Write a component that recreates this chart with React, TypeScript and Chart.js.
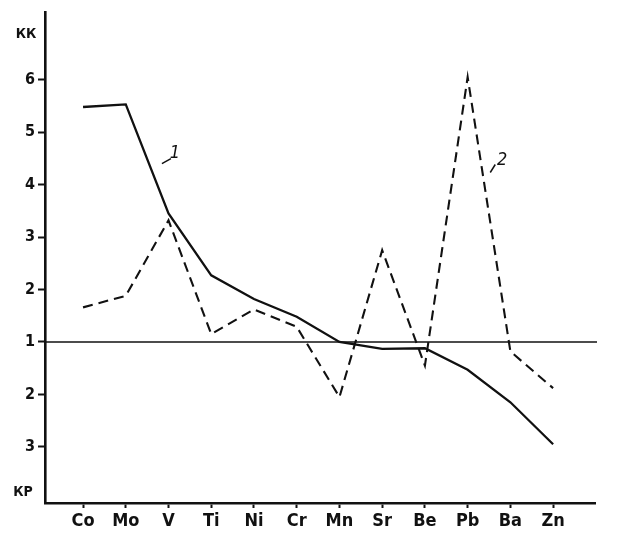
import React, { useEffect, useRef } from "react";
import { Chart, registerables } from "chart.js";

Chart.register(...registerables);

// Elements along the x axis
const categories = ["Co", "Mo", "V", "Ti", "Ni", "Cr", "Mn", "Sr", "Be", "Pb", "Ba", "Zn"];
// Axis value: >= 1 is KK (concentration), < 1 maps to KP label (2 - v)
const series1 = [5.48, 5.53, 3.45, 2.27, 1.82, 1.48, 1.0, 0.87, 0.88, 0.47, -0.15, -0.95];
const series2 = [1.66, 1.88, 3.32, 1.15, 1.62, 1.29, -0.05, 2.75, 0.55, 6.05, 0.82, 0.12];
const yTickValues = [-1, 0, 1, 2, 3, 4, 5, 6];
const yTickLabel = (v: number) => (v >= 1 ? String(v) : String(2 - v));
const upperTitle = "КК";
const lowerTitle = "КР";
const seriesNames = ["1", "2"];
const referenceValue = 1;

const FONT = "'DejaVu Sans Condensed', 'DejaVu Sans', sans-serif";

export default function App() {
  const ref = useRef<HTMLCanvasElement | null>(null);

  useEffect(() => {
    document.body.style.margin = "0";
    const canvas = ref.current;
    if (!canvas) return;

    const decor = {
      id: "decor",
      beforeDatasetsDraw(chart: any) {
        const { ctx, chartArea, scales } = chart;
        const y = scales.y.getPixelForValue(referenceValue);
        ctx.save();
        ctx.strokeStyle = "#111";
        ctx.lineWidth = 1.7;
        ctx.beginPath();
        ctx.moveTo(chartArea.left, y);
        ctx.lineTo(chartArea.right + 2, y);
        ctx.stroke();
        ctx.restore();
      },
      afterDraw(chart: any) {
        const { ctx, scales } = chart;
        const xs = scales.x;
        const ys = scales.y;
        ctx.save();
        ctx.fillStyle = "#111";
        ctx.strokeStyle = "#111";
        // axis titles
        ctx.font = `bold 14px ${FONT}`;
        ctx.textAlign = "center";
        ctx.textBaseline = "middle";
        ctx.fillText(upperTitle, 26, ys.getPixelForValue(6.86));
        ctx.fillText(lowerTitle, 23, ys.getPixelForValue(-1.86));
        // series labels with leaders
        const labels = [
          { text: seriesNames[0], xv: 2.15, yv: 4.59, l: [-13, 10, -4, 5] },
          { text: seriesNames[1], xv: 9.81, yv: 4.46, l: [-12, 12, -7, 4] },
        ];
        ctx.font = `italic 18px ${FONT}`;
        ctx.lineWidth = 1.5;
        for (const lb of labels) {
          const px = xs.getPixelForValue(lb.xv);
          const py = ys.getPixelForValue(lb.yv);
          ctx.fillText(lb.text, px, py);
          ctx.beginPath();
          ctx.moveTo(px + lb.l[0], py + lb.l[1]);
          ctx.lineTo(px + lb.l[2], py + lb.l[3]);
          ctx.stroke();
        }
        ctx.restore();
      },
    };

    const chart = new Chart(canvas, {
      type: "line",
      data: {
        datasets: [
          {
            label: seriesNames[0],
            data: categories.map((_, i) => ({ x: i, y: series1[i] })),
            borderColor: "#111",
            borderWidth: 2.3,
            pointRadius: 0,
            tension: 0,
            fill: false,
          },
          {
            label: seriesNames[1],
            data: categories.map((_, i) => ({ x: i, y: series2[i] })),
            borderColor: "#111",
            borderWidth: 2.1,
            borderDash: [10, 6],
            pointRadius: 0,
            tension: 0,
            fill: false,
          },
        ],
      },
      options: {
        responsive: false,
        animation: false,
        devicePixelRatio: 1,
        layout: { padding: { top: 12, right: 40, left: 0, bottom: 0 } },
        plugins: { legend: { display: false }, tooltip: { enabled: false } },
        scales: {
          x: {
            type: "linear",
            bounds: "data",
            min: -0.89,
            max: 11.98,
            afterBuildTicks: (scale: any) => {
              scale.ticks = categories.map((_, i) => ({ value: i }));
            },
            afterFit: (scale: any) => {
              scale.height = 38;
            },
            border: { display: true, color: "#111", width: 2.6 },
            grid: {
              drawOnChartArea: false,
              drawTicks: true,
              tickLength: 5,
              tickColor: "#111",
              tickWidth: 2,
            },
            ticks: {
              autoSkip: false,
              maxRotation: 0,
              padding: 3,
              color: "#111",
              font: { family: FONT, size: 18, weight: "bold" },
              callback: (v: any) => categories[Number(v)] ?? "",
            },
          },
          y: {
            type: "linear",
            bounds: "data",
            min: -2.07,
            max: 7.28,
            afterBuildTicks: (scale: any) => {
              scale.ticks = yTickValues.map((v) => ({ value: v }));
            },
            afterFit: (scale: any) => {
              scale.width = 45;
            },
            border: { display: true, color: "#111", width: 2.6 },
            grid: {
              drawOnChartArea: false,
              drawTicks: true,
              tickLength: 7,
              tickColor: "#111",
              tickWidth: 2,
            },
            ticks: {
              padding: 3,
              color: "#111",
              font: { family: FONT, size: 16, weight: "bold" },
              callback: (v: any) => yTickLabel(Number(v)),
            },
          },
        },
      },
      plugins: [decor],
    } as any);

    return () => chart.destroy();
  }, []);

  return (
    <div style={{ position: "absolute", left: 0, top: 0, width: 635, height: 541, background: "#fff" }}>
      <canvas ref={ref} width={635} height={541} style={{ width: 635, height: 541 }} />
    </div>
  );
}
